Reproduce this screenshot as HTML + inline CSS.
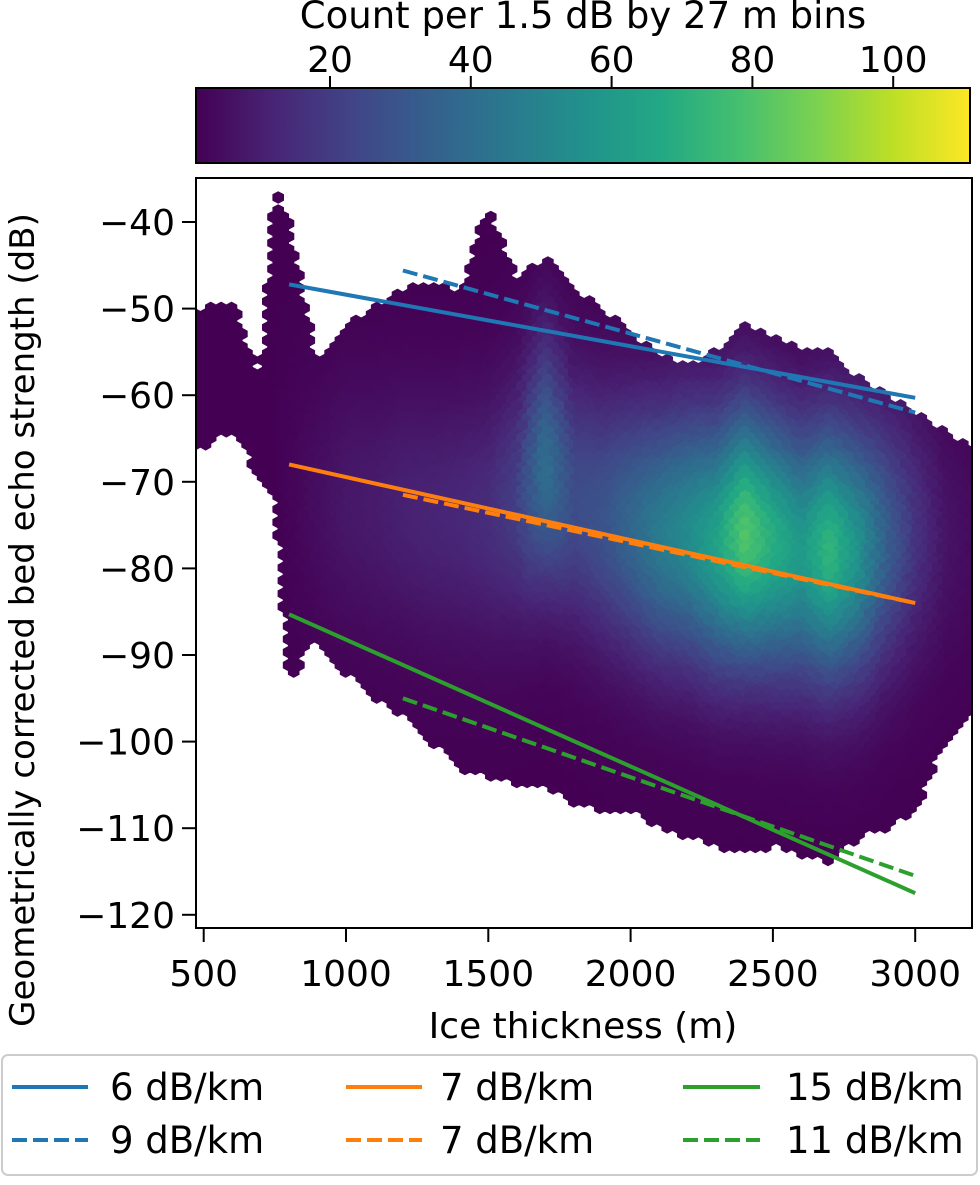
<!DOCTYPE html>
<html><head><meta charset="utf-8"><style>
html,body{margin:0;padding:0;background:#fff}
svg text{font-family:"DejaVu Sans","Liberation Sans",sans-serif;fill:#000}
</style></head><body>
<svg id="chart" width="980" height="1180" viewBox="0 0 980 1180" xmlns="http://www.w3.org/2000/svg">
<defs>
<linearGradient id="vir" x1="0" x2="1" y1="0" y2="0">
<stop offset="0" stop-color="#440154"/><stop offset="0.1" stop-color="#482475"/><stop offset="0.2" stop-color="#414487"/><stop offset="0.3" stop-color="#355f8d"/><stop offset="0.4" stop-color="#2a788e"/><stop offset="0.5" stop-color="#21918c"/><stop offset="0.6" stop-color="#22a884"/><stop offset="0.7" stop-color="#44bf70"/><stop offset="0.8" stop-color="#7ad151"/><stop offset="0.9" stop-color="#bddf26"/><stop offset="1" stop-color="#fde725"/>
</linearGradient>
<clipPath id="plotclip"><rect x="196" y="178" width="776" height="750"/></clipPath>
</defs>
<g id="hexes" clip-path="url(#plotclip)"></g>
<g id="fits" clip-path="url(#plotclip)"></g>
<rect x="196" y="178" width="776" height="750" fill="none" stroke="#000" stroke-width="2"/>
<g id="xaxis"></g>
<g id="yaxis"></g>
<text x="583" y="1038" font-size="36" text-anchor="middle">Ice thickness (m)</text>
<text transform="translate(34,620) rotate(-90)" font-size="34" text-anchor="middle">Geometrically corrected bed echo strength (dB)</text>
<text x="583" y="28" font-size="37" text-anchor="middle">Count per 1.5 dB by 27 m bins</text>
<rect x="196" y="88" width="774" height="75" fill="url(#vir)" stroke="#000" stroke-width="2"/>
<g id="cbticks"></g>
<g font-size="37">
<rect x="2" y="1055" width="975" height="120" rx="6" fill="#fff" stroke="#ccc" stroke-width="2"/>
<g><line x1="12" x2="88" y1="1087" y2="1087" stroke="#1f77b4" stroke-width="4"/><text x="110" y="1100" font-size="37">6 dB/km</text></g>
<g><line x1="12" x2="88" y1="1140" y2="1140" stroke="#1f77b4" stroke-width="4" stroke-dasharray="15,6"/><text x="110" y="1153" font-size="37">9 dB/km</text></g>
<g><line x1="346" x2="422" y1="1087" y2="1087" stroke="#ff7f0e" stroke-width="4"/><text x="440" y="1100" font-size="37">7 dB/km</text></g>
<g><line x1="346" x2="422" y1="1140" y2="1140" stroke="#ff7f0e" stroke-width="4" stroke-dasharray="15,6"/><text x="440" y="1153" font-size="37">7 dB/km</text></g>
<g><line x1="683" x2="760" y1="1087" y2="1087" stroke="#2ca02c" stroke-width="4"/><text x="786" y="1100" font-size="37">15 dB/km</text></g>
<g><line x1="683" x2="760" y1="1140" y2="1140" stroke="#2ca02c" stroke-width="4" stroke-dasharray="15,6"/><text x="786" y="1153" font-size="37">11 dB/km</text></g>
</g>
</svg>
<script>
// ---- data ----
const colThickness = [500,600,700,750,800,900,1000,1100,1200,1300,1400,1500,1600,1700,1800,1900,2000,2100,2200,2300,2400,2500,2600,2700,2800,2900,3000,3100,3200];
const colTopDb     = [-50,-49,-58,-36,-40,-57,-52,-50,-48,-47,-48,-38,-47,-44,-48,-50,-53,-55,-57,-55,-52,-53,-55,-55,-58,-60,-62,-64,-66];
const colBottomDb  = [-66,-64,-70,-72,-93,-88,-92,-95,-97,-100,-103,-104,-105,-105,-107,-108,-108,-110,-111,-112,-113,-112,-113,-114,-111,-110,-108,-100,-96];
const colPeakCount = [0,0,0,0,1,4,7,8,10,11,12,14,20,40,25,28,36,45,52,62,80,68,58,72,55,32,16,6,3];
const colCenterDb  = [-58,-56,-64,-60,-70,-72,-72,-73,-73,-74,-74,-74,-72,-68,-72,-74,-75,-76,-76,-77,-76,-77,-78,-78,-78,-77,-76,-76,-76];
const fitNames  = ['blue-solid','blue-dashed','orange-solid','orange-dashed','green-solid','green-dashed'];
const fitX0     = [800,1200,800,1200,800,1200];
const fitY0     = [-47.2,-45.6,-68,-71.5,-85.3,-95];
const fitX1     = [3000,3000,3000,3000,3000,3000];
const fitY1     = [-60.3,-62,-84,-84,-117.5,-115.5];
const fitColors = ['#1f77b4','#1f77b4','#ff7f0e','#ff7f0e','#2ca02c','#2ca02c'];
const fitDashed = [false,true,false,true,false,true];
const xTicks = [500,1000,1500,2000,2500,3000];
const yTicks = [-40,-50,-60,-70,-80,-90,-100,-110,-120];
const cbTicks = [20,40,60,80,100];
// ---- scales ----
const NS='http://www.w3.org/2000/svg';
const X = v => 346 + (v-1000)*142.3/500;
const Y = v => 222 + (-40 - v)*8.66;
const CB = v => 330 + (v-20)*7.04;
const vStops=['#440154','#482475','#414487','#355f8d','#2a788e','#21918c','#22a884','#44bf70','#7ad151','#bddf26','#fde725'];
function hx(c){return [parseInt(c.slice(1,3),16),parseInt(c.slice(3,5),16),parseInt(c.slice(5,7),16)];}
function viridis(t){t=Math.max(0,Math.min(1,t));const f=t*10,i=Math.min(9,Math.floor(f)),r=f-i;const a=hx(vStops[i]),b=hx(vStops[i+1]);return 'rgb('+a.map((v,k)=>Math.round(v+(b[k]-v)*r)).join(',')+')';}
function interp(arr,t){if(t<=colThickness[0])return arr[0];for(let i=1;i<colThickness.length;i++){if(t<=colThickness[i]){const r=(t-colThickness[i-1])/(colThickness[i]-colThickness[i-1]);return arr[i-1]+(arr[i]-arr[i-1])*r;}}return arr[arr.length-1];}
// ---- hexes ----
const hg=document.getElementById('hexes');
const sx=27*142.3/500*1.35, sy=1.5*8.66*1.0;
const byColor={};
for(let j=0;;j++){
  const py=178+j*sy/2; if(py>935)break;
  const off=(j%2)?sx/2:0;
  for(let px=190+off;px<980;px+=sx){
    const t=1000+(px-346)*500/142.3, db=-40-(py-222)/8.66;
    const top=interp(colTopDb,t), bot=interp(colBottomDb,t);
    if(db>top||db<bot)continue;
    const pk=interp(colPeakCount,t), c=interp(colCenterDb,t);
    const d=(db-c)/10;
    const cnt=1+pk*Math.exp(-d*d/2);
    const col=viridis((cnt-1)/110);
    const h=sy/3*1.45, w=sx/2+0.6;
    const p=`M${(px).toFixed(1)},${(py-h).toFixed(1)}L${(px+w).toFixed(1)},${(py-h/2).toFixed(1)}L${(px+w).toFixed(1)},${(py+h/2).toFixed(1)}L${px.toFixed(1)},${(py+h).toFixed(1)}L${(px-w).toFixed(1)},${(py+h/2).toFixed(1)}L${(px-w).toFixed(1)},${(py-h/2).toFixed(1)}Z`;
    (byColor[col]=byColor[col]||[]).push(p);
  }
}
for(const col in byColor){const e=document.createElementNS(NS,'path');
e.setAttribute('d',byColor[col].join(''));e.setAttribute('fill',col);


hg.appendChild(e);}
// ---- fits ----
const fg=document.getElementById('fits');
fitNames.forEach((n,i)=>{const l=document.createElementNS(NS,'line');
l.setAttribute('x1',X(fitX0[i]));l.setAttribute('y1',Y(fitY0[i]));l.setAttribute('x2',X(fitX1[i]));l.setAttribute('y2',Y(fitY1[i]));
l.setAttribute('stroke',fitColors[i]);l.setAttribute('stroke-width','4');
if(fitDashed[i])l.setAttribute('stroke-dasharray','15,6');


fg.appendChild(l);});
// ---- axes ----
const xa=document.getElementById('xaxis');
xTicks.forEach(v=>{const x=X(v);const l=document.createElementNS(NS,'line');
l.setAttribute('x1',x);l.setAttribute('x2',x);l.setAttribute('y1',928);l.setAttribute('y2',942);l.setAttribute('stroke','#000');l.setAttribute('stroke-width','2');


xa.appendChild(l);
const t=document.createElementNS(NS,'text');t.setAttribute('x',x);t.setAttribute('y',986);t.setAttribute('font-size','36');t.setAttribute('text-anchor','middle');t.textContent=v;


xa.appendChild(t);});
const ya=document.getElementById('yaxis');
yTicks.forEach(v=>{const y=Y(v);const l=document.createElementNS(NS,'line');
l.setAttribute('x1',182);l.setAttribute('x2',196);l.setAttribute('y1',y);l.setAttribute('y2',y);l.setAttribute('stroke','#000');l.setAttribute('stroke-width','2');


ya.appendChild(l);
const t=document.createElementNS(NS,'text');t.setAttribute('x',175);t.setAttribute('y',y+13);t.setAttribute('font-size','36');t.setAttribute('text-anchor','end');t.textContent='\u2212'+Math.abs(v);


ya.appendChild(t);});
const cg=document.getElementById('cbticks');
cbTicks.forEach(v=>{const x=CB(v);const l=document.createElementNS(NS,'line');
l.setAttribute('x1',x);l.setAttribute('x2',x);l.setAttribute('y1',76);l.setAttribute('y2',88);l.setAttribute('stroke','#000');l.setAttribute('stroke-width','2');


cg.appendChild(l);
const t=document.createElementNS(NS,'text');t.setAttribute('x',x);t.setAttribute('y',72);t.setAttribute('font-size','36');t.setAttribute('text-anchor','middle');t.textContent=v;


cg.appendChild(t);});
</script>
</body></html>
